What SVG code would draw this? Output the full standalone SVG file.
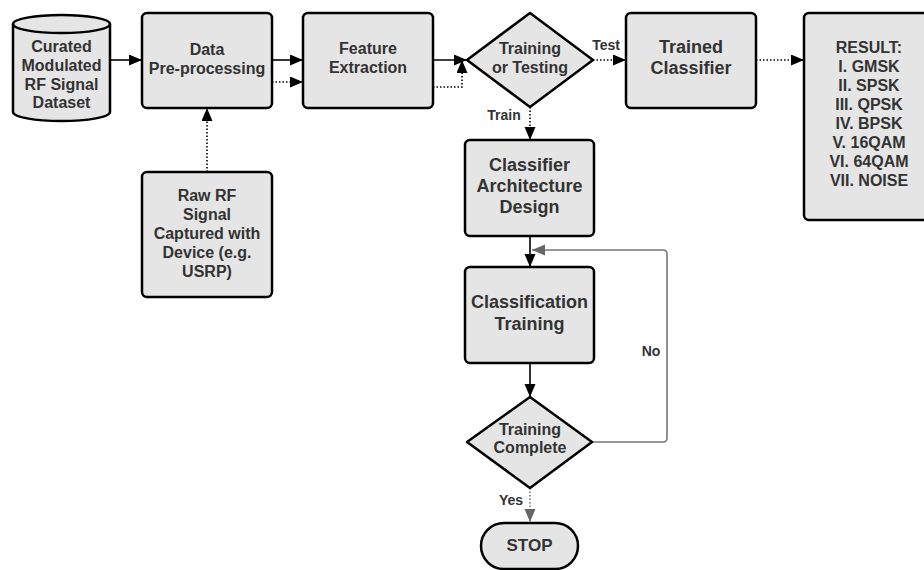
<svg xmlns="http://www.w3.org/2000/svg" width="924" height="570" viewBox="0 0 924 570">
<defs>
<style>
.n{fill:#e5e5e5;stroke:#000;stroke-width:2.5;stroke-linejoin:round}
.t{font-family:"Liberation Sans",Arial,sans-serif;font-weight:bold;fill:#333;text-anchor:middle}
.s16{font-size:16px}.s18{font-size:18px}.s13{font-size:14px}.s17{font-size:17px}
.c{fill:none;stroke:#000;stroke-width:1.6}
.d{stroke-dasharray:1.5 2}
.g{stroke:#777}
</style>
<marker id="a" markerUnits="userSpaceOnUse" markerWidth="14" markerHeight="12" refX="13" refY="5.5" orient="auto"><path d="M0,0 L13,5.5 L0,11 Z" fill="#000"/></marker>
<marker id="ag" markerUnits="userSpaceOnUse" markerWidth="14" markerHeight="12" refX="13" refY="5.5" orient="auto"><path d="M0,0 L13,5.5 L0,11 Z" fill="#666"/></marker>
</defs>
<g id="connectors">
<line class="c" x1="110" y1="60" x2="142" y2="60" marker-end="url(#a)"/>
<line class="c" x1="272" y1="60" x2="303" y2="60" marker-end="url(#a)"/>
<line class="c d" x1="272" y1="82" x2="303" y2="82" marker-end="url(#a)"/>
<line class="c" x1="433" y1="60" x2="467" y2="60" marker-end="url(#a)"/>
<polyline class="c d" points="433,87 462,87 462,60" marker-end="url(#a)"/>
<line class="c d" x1="207" y1="172" x2="207" y2="108" marker-end="url(#a)"/>
<line class="c d" x1="593" y1="60" x2="626" y2="60" marker-end="url(#a)"/>
<line class="c d" x1="756" y1="60" x2="804" y2="60" marker-end="url(#a)"/>
<line class="c d" x1="530" y1="107" x2="530" y2="140" marker-end="url(#a)"/>
<line class="c" x1="530" y1="236" x2="530" y2="267" marker-end="url(#a)"/>
<line class="c" x1="530" y1="363" x2="530" y2="397" marker-end="url(#a)"/>
<path class="c g" d="M592,442 H663 Q667,442 667,438 V254 Q667,250 663,250 H532" marker-end="url(#ag)"/>
<line class="c d g" x1="530" y1="488" x2="530" y2="522" marker-end="url(#ag)"/>
<text class="t s13" x="606" y="50">Test</text>
<text class="t s13" x="504" y="120">Train</text>
<text class="t s13" x="651" y="356">No</text>
<text class="t s13" x="511" y="505">Yes</text>
</g>
<g id="dataset">
<path class="n" d="M13,24 A48.5,9 0 0,1 110,24 L110,112 A48.5,9 0 0,1 13,112 Z"/>
<path class="n" fill="none" d="M13,24 A48.5,9 0 0,0 110,24"/>
<text class="t s16" x="61.5" y="52">Curated</text>
<text class="t s16" x="61.5" y="71">Modulated</text>
<text class="t s16" x="61.5" y="90">RF Signal</text>
<text class="t s16" x="61.5" y="108">Dataset</text>
</g>
<g id="preprocessing">
<rect class="n" x="142" y="13" width="130" height="95" rx="5"/>
<text class="t s16" x="207" y="55">Data</text>
<text class="t s16" x="207" y="74">Pre-processing</text>
</g>
<g id="raw">
<rect class="n" x="142" y="172" width="130" height="125" rx="5"/>
<text class="t s16" x="207" y="201">Raw RF</text>
<text class="t s16" x="207" y="220">Signal</text>
<text class="t s16" x="207" y="239">Captured with</text>
<text class="t s16" x="207" y="258">Device (e.g.</text>
<text class="t s16" x="207" y="277">USRP)</text>
</g>
<g id="feature">
<rect class="n" x="303" y="13" width="130" height="95" rx="5"/>
<text class="t s16" x="368" y="54">Feature</text>
<text class="t s16" x="368" y="73">Extraction</text>
</g>
<g id="decision">
<polygon class="n" points="530,13 593,60 530,107 467,60"/>
<text class="t s16" x="530" y="54">Training</text>
<text class="t s16" x="530" y="73">or Testing</text>
</g>
<g id="trained">
<rect class="n" x="626" y="13" width="130" height="95" rx="5"/>
<text class="t s18" x="691" y="53">Trained</text>
<text class="t s18" x="691" y="74">Classifier</text>
</g>
<g id="result">
<rect class="n" x="804" y="13" width="140" height="207" rx="5"/>
<text class="t s16" x="869" y="53">RESULT:</text>
<text class="t s16" x="869" y="72">I. GMSK</text>
<text class="t s16" x="869" y="91">II. SPSK</text>
<text class="t s16" x="869" y="110">III. QPSK</text>
<text class="t s16" x="869" y="129">IV. BPSK</text>
<text class="t s16" x="869" y="148">V. 16QAM</text>
<text class="t s16" x="869" y="167">VI. 64QAM</text>
<text class="t s16" x="869" y="186">VII. NOISE</text>
</g>
<g id="architecture">
<rect class="n" x="465" y="140" width="129" height="96" rx="5"/>
<text class="t s18" x="529.5" y="171">Classifier</text>
<text class="t s18" x="529.5" y="192">Architecture</text>
<text class="t s18" x="529.5" y="213">Design</text>
</g>
<g id="training">
<rect class="n" x="465" y="267" width="129" height="96" rx="5"/>
<text class="t s18" x="529.5" y="308">Classification</text>
<text class="t s18" x="529.5" y="330">Training</text>
</g>
<g id="complete">
<polygon class="n" points="530,397 592,442 530,488 467,442"/>
<text class="t s16" x="530" y="435">Training</text>
<text class="t s16" x="530" y="453">Complete</text>
</g>
<g id="stop">
<rect class="n" x="481" y="523" width="97" height="46" rx="23"/>
<text class="t s17" x="529.5" y="551">STOP</text>
</g>
</svg>
